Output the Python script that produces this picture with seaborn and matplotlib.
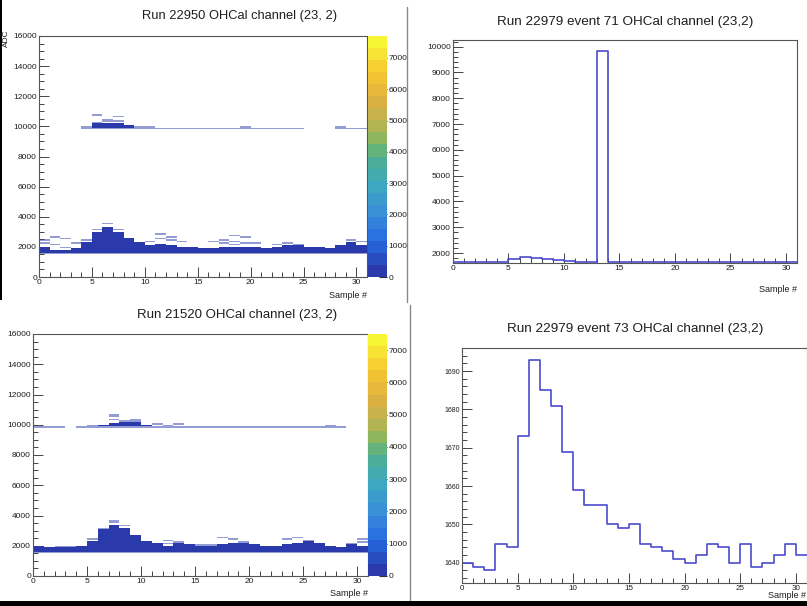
import numpy as np
import pandas as pd
import matplotlib
matplotlib.use("Agg")
import matplotlib.pyplot as plt
from matplotlib.colors import LinearSegmentedColormap, ListedColormap
from matplotlib.patches import Rectangle
from matplotlib.lines import Line2D
from matplotlib.ticker import MultipleLocator, StrMethodFormatter
import seaborn as sns

sns.set_theme(style="ticks")
plt.rcParams["font.family"] = ["Liberation Sans", "DejaVu Sans"]

W, H = 807, 606

# ---------------- data ----------------
SAMPLE_EDGES = np.arange(32)          # 31 samples per waveform
SAMPLES = np.arange(31)
ADC_EDGES = np.arange(0, 16001, 100)  # ADC binning of the 2D waveform maps
ADC_BIN = 100
PEDESTAL_ADC = 1600
HIGH_LINE_ADC = 9850
DENSE_COUNT = 60
SPARSE_COUNT = 1

# Run 22950, OHCal channel (23, 2): accumulated waveforms
R22950_BAND_TOP = [1990, 1770, 1730, 1880, 2280, 2940, 3280, 2940, 2590, 2210, 2060,
                   2150, 2100, 1990, 1950, 1880, 1880, 1950, 1990, 1990, 1950, 1900,
                   1950, 2060, 2040, 1950, 1950, 1860, 2040, 2210, 2100]
R22950_LOW_HIT_X = [0, 0, 1, 1, 2, 2, 3, 4, 5, 6, 7, 10, 11, 11, 12, 12, 13, 16, 17, 17,
                    18, 18, 18, 19, 19, 20, 22, 23, 24, 29, 30]
R22950_LOW_HIT_ADC = [2480, 2260, 2650, 2100, 2520, 1990, 2210, 2480, 3100, 3590, 3170,
                      2370, 2880, 2500, 2650, 2480, 2320, 2350, 2480, 2260, 2790, 2320,
                      2150, 2610, 2210, 2260, 2170, 2210, 2150, 2430, 2390]
R22950_HIGH_LINE_COLS = list(range(4, 25)) + [28, 29, 30]
R22950_HIGH_BAND_COLS = [5, 6, 7, 8]
R22950_HIGH_BAND_TOP = [10150, 10200, 10200, 10100]
R22950_HIGH_HIT_X = [4, 5, 5, 6, 6, 7, 7, 9, 10, 19, 28]
R22950_HIGH_HIT_ADC = [9950, 10200, 10780, 10300, 10400, 10350, 10650, 9950, 9950, 9980, 9980]
R22950_ZMAX = 7700

# Run 21520, OHCal channel (23, 2): accumulated waveforms
R21520_BAND_TOP = [1970, 1810, 1880, 1860, 1920, 2210, 3030, 3400, 3200, 2700, 2300,
                   2140, 1990, 2140, 2030, 1970, 1920, 2080, 2190, 2190, 2030, 1920,
                   1920, 2080, 2190, 2250, 2140, 1990, 1880, 2030, 1990]
R21520_LOW_HIT_X = [2, 3, 5, 6, 7, 7, 8, 12, 12, 13, 15, 16, 17, 18, 19, 22, 23, 24, 25,
                    29, 30, 30]
R21520_LOW_HIT_ADC = [1970, 1900, 2410, 3100, 3620, 3510, 3310, 2320, 2140, 2250, 2080,
                      2030, 2520, 2470, 2250, 1990, 2430, 2500, 2360, 2100, 2410, 2210]
R21520_HIGH_LINE_COLS = [0, 1, 2] + list(range(4, 29))
R21520_HIGH_BAND_COLS = [6, 7, 8, 9, 10]
R21520_HIGH_BAND_TOP = [10000, 10100, 10200, 10200, 10000]
R21520_HIGH_HIT_X = [5, 7, 7, 7, 8, 9, 9, 11, 12, 13, 27]
R21520_HIGH_HIT_ADC = [9950, 10650, 10550, 10350, 10250, 10350, 10250, 10000, 9950, 10050, 9970]
R21520_ZMAX = 7500

# Run 22979, single events
EVENT71_ADC = [1640, 1640, 1640, 1640, 1660, 1770, 1830, 1805, 1760, 1730, 1690, 1655,
               1650, 9830, 1665, 1665, 1665, 1665, 1665, 1665, 1640, 1640, 1640, 1640,
               1640, 1640, 1640, 1640, 1640, 1640, 1640]
EVENT73_ADC = [1640, 1639, 1638, 1645, 1644, 1673, 1693, 1685, 1681, 1669, 1659, 1655,
               1655, 1650, 1649, 1650, 1645, 1644, 1643, 1641, 1640, 1642, 1645, 1644,
               1640, 1645, 1639, 1640, 1642, 1645, 1642]

TITLES = ["Run 22950 OHCal channel (23, 2)",
          "Run 22979 event 71 OHCal channel (23,2)",
          "Run 21520 OHCal channel (23, 2)",
          "Run 22979 event 73 OHCal channel (23,2)"]
XLABEL = "Sample #"
YLABEL = "ADC"

# ---------------- styling ----------------
LINE_COLOR = "#4a4ccf"
FRAME_COLOR = "#555555"
TEXT_COLOR = "#1e1e1e"

bird_anchors = [(0.0, "#2a3aaa"), (0.125, "#2568e0"), (0.25, "#3a8ed8"),
                (0.375, "#3ca8c0"), (0.5, "#50b090"), (0.5625, "#80b860"),
                (0.625, "#b0b455"), (0.75, "#e0b040"), (0.875, "#f5c830"),
                (1.0, "#f8f535")]
_bird = LinearSegmentedColormap.from_list("bird", bird_anchors)
BIRD20 = ListedColormap([_bird(i / 19) for i in range(20)])


def waveform_cells(band_top, low_x, low_adc, line_cols, hb_cols, hb_top, hi_x, hi_adc):
    dense, sparse = [], []
    for s, top in zip(SAMPLES, band_top):
        for y in np.arange(PEDESTAL_ADC, top, ADC_BIN):
            dense.append((s + 0.5, y + ADC_BIN / 2, DENSE_COUNT))
        sparse.append((s + 0.5, PEDESTAL_ADC - ADC_BIN / 2, SPARSE_COUNT))
    for s, top in zip(hb_cols, hb_top):
        for y in np.arange(HIGH_LINE_ADC + ADC_BIN / 2, top, ADC_BIN):
            dense.append((s + 0.5, y + ADC_BIN / 2, DENSE_COUNT))
    for s, y in zip(low_x, low_adc):
        sparse.append((s + 0.5, y, SPARSE_COUNT))
    for s in line_cols:
        sparse.append((s + 0.5, HIGH_LINE_ADC, SPARSE_COUNT))
    for s, y in zip(hi_x, hi_adc):
        sparse.append((s + 0.5, y, SPARSE_COUNT))
    cols = ["sample", "adc", "count"]
    return pd.DataFrame(dense, columns=cols), pd.DataFrame(sparse, columns=cols)


fig = plt.figure(figsize=(W / 100, H / 100), dpi=100)
fig.patch.set_facecolor("white")


def px_axes(x0, y0, x1, y1):
    return fig.add_axes([x0 / W, 1 - y1 / H, (x1 - x0) / W, (y1 - y0) / H])


def px_text(x, y, s, **kw):
    kw.setdefault("color", TEXT_COLOR)
    return fig.text(x / W, 1 - y / H, s, **kw)


def style_axes(ax, ylim, ymajor, yminor, ylab=6, xlab=6):
    ax.set_xlim(0, 31)
    ax.set_ylim(*ylim)
    ax.xaxis.set_major_locator(MultipleLocator(5))
    ax.xaxis.set_minor_locator(MultipleLocator(1))
    ax.yaxis.set_major_locator(MultipleLocator(ymajor))
    ax.yaxis.set_minor_locator(MultipleLocator(yminor))
    ax.yaxis.set_major_formatter(StrMethodFormatter("{x:.0f}"))
    ax.tick_params(which="both", direction="in", top=False, right=False,
                   left=True, bottom=True, color="#444444", labelcolor=TEXT_COLOR)
    ax.tick_params(which="major", length=7.2, width=0.7)
    ax.tick_params(which="minor", length=3.6, width=0.7)
    ax.tick_params(axis="y", labelsize=ylab, pad=1.5)
    ax.tick_params(axis="x", labelsize=xlab, pad=1.5)
    for sp in ax.spines.values():
        sp.set_color(FRAME_COLOR)
        sp.set_linewidth(0.8)
    ax.set_xlabel("")
    ax.set_ylabel("")
    ax.set_facecolor("white")


def waveform_map(ax, cax, cells, zmax):
    dense, sparse = cells
    sns.histplot(data=dense, x="sample", y="adc", weights="count",
                 bins=(SAMPLE_EDGES, ADC_EDGES), cmap=BIRD20, vmin=0, vmax=zmax,
                 cbar=True, cbar_ax=cax, ax=ax)
    sns.histplot(data=sparse, x="sample", y="adc", weights="count",
                 bins=(SAMPLE_EDGES, ADC_EDGES), cmap=BIRD20, vmin=0, vmax=zmax,
                 alpha=0.5, ax=ax)
    style_axes(ax, (0, 16000), 2000, 500)
    cax.yaxis.set_major_locator(MultipleLocator(1000))
    cax.yaxis.set_major_formatter(StrMethodFormatter("{x:.0f}"))
    cax.tick_params(direction="in", length=5.5, width=0.8, color="#333333",
                    labelsize=6, pad=1, labelcolor=TEXT_COLOR)
    for sp in cax.spines.values():
        sp.set_visible(False)
    mesh = ax.collections[0]
    if mesh.colorbar is not None:
        mesh.colorbar.outline.set_visible(False)


def event_trace(ax, adc):
    frame = pd.DataFrame({"sample": SAMPLES + 0.5, "adc": adc})
    sns.histplot(data=frame, x="sample", weights="adc", bins=len(SAMPLES),
                 binrange=(SAMPLE_EDGES[0], SAMPLE_EDGES[-1]),
                 element="step", fill=False, color=LINE_COLOR, linewidth=1.2, ax=ax)


# top-left: Run 22950
ax_tl = px_axes(39, 36, 367, 277)
cax_tl = px_axes(368, 36, 387, 277)
waveform_map(ax_tl, cax_tl,
             waveform_cells(R22950_BAND_TOP, R22950_LOW_HIT_X, R22950_LOW_HIT_ADC,
                            R22950_HIGH_LINE_COLS, R22950_HIGH_BAND_COLS,
                            R22950_HIGH_BAND_TOP, R22950_HIGH_HIT_X, R22950_HIGH_HIT_ADC),
             R22950_ZMAX)
px_text(240, 16, TITLES[0], fontsize=9.3, ha="center", va="center")
px_text(367, 295, XLABEL, fontsize=6.5, ha="right", va="center")
px_text(6.5, 38, YLABEL, fontsize=6, ha="center", va="center", rotation=90)

# bottom-left: Run 21520
ax_bl = px_axes(33, 334, 368, 576)
cax_bl = px_axes(368, 334, 387, 576)
waveform_map(ax_bl, cax_bl,
             waveform_cells(R21520_BAND_TOP, R21520_LOW_HIT_X, R21520_LOW_HIT_ADC,
                            R21520_HIGH_LINE_COLS, R21520_HIGH_BAND_COLS,
                            R21520_HIGH_BAND_TOP, R21520_HIGH_HIT_X, R21520_HIGH_HIT_ADC),
             R21520_ZMAX)
px_text(237, 315, TITLES[2], fontsize=9.5, ha="center", va="center")
px_text(368, 593, XLABEL, fontsize=6.5, ha="right", va="center")

# top-right: event 71
ax_tr = px_axes(453, 40, 797, 263)
event_trace(ax_tr, EVENT71_ADC)
style_axes(ax_tr, (1613, 10259), 1000, 200)
px_text(625, 22, TITLES[1], fontsize=9.7, ha="center", va="center")
px_text(797, 290, XLABEL, fontsize=6.5, ha="right", va="center")

# bottom-right: event 73
ax_br = px_axes(462, 348, 807, 583)
event_trace(ax_br, EVENT73_ADC)
style_axes(ax_br, (1634.7, 1696), 10, 2, ylab=5, xlab=5.8)
px_text(635, 329, TITLES[3], fontsize=9.7, ha="center", va="center")
px_text(806, 596, XLABEL, fontsize=6.5, ha="right", va="center")

# screen-capture frame: dividers and dark borders
fig.add_artist(Line2D([407 / W] * 2, [1 - 7 / H, 1 - 302 / H], color="#8a8a8a", lw=1.0))
fig.add_artist(Line2D([410.5 / W] * 2, [1 - 305 / H, 1 - 600 / H], color="#8a8a8a", lw=1.0))
fig.add_artist(Rectangle((0, 0), 1, 5.5 / H, transform=fig.transFigure,
                         facecolor="black", edgecolor="none", zorder=10))
fig.add_artist(Rectangle((0, 1 - 300 / H), 2 / W, 300 / H, transform=fig.transFigure,
                         facecolor="black", edgecolor="none", zorder=10))

fig.savefig("out.png", dpi=100, facecolor="white")
